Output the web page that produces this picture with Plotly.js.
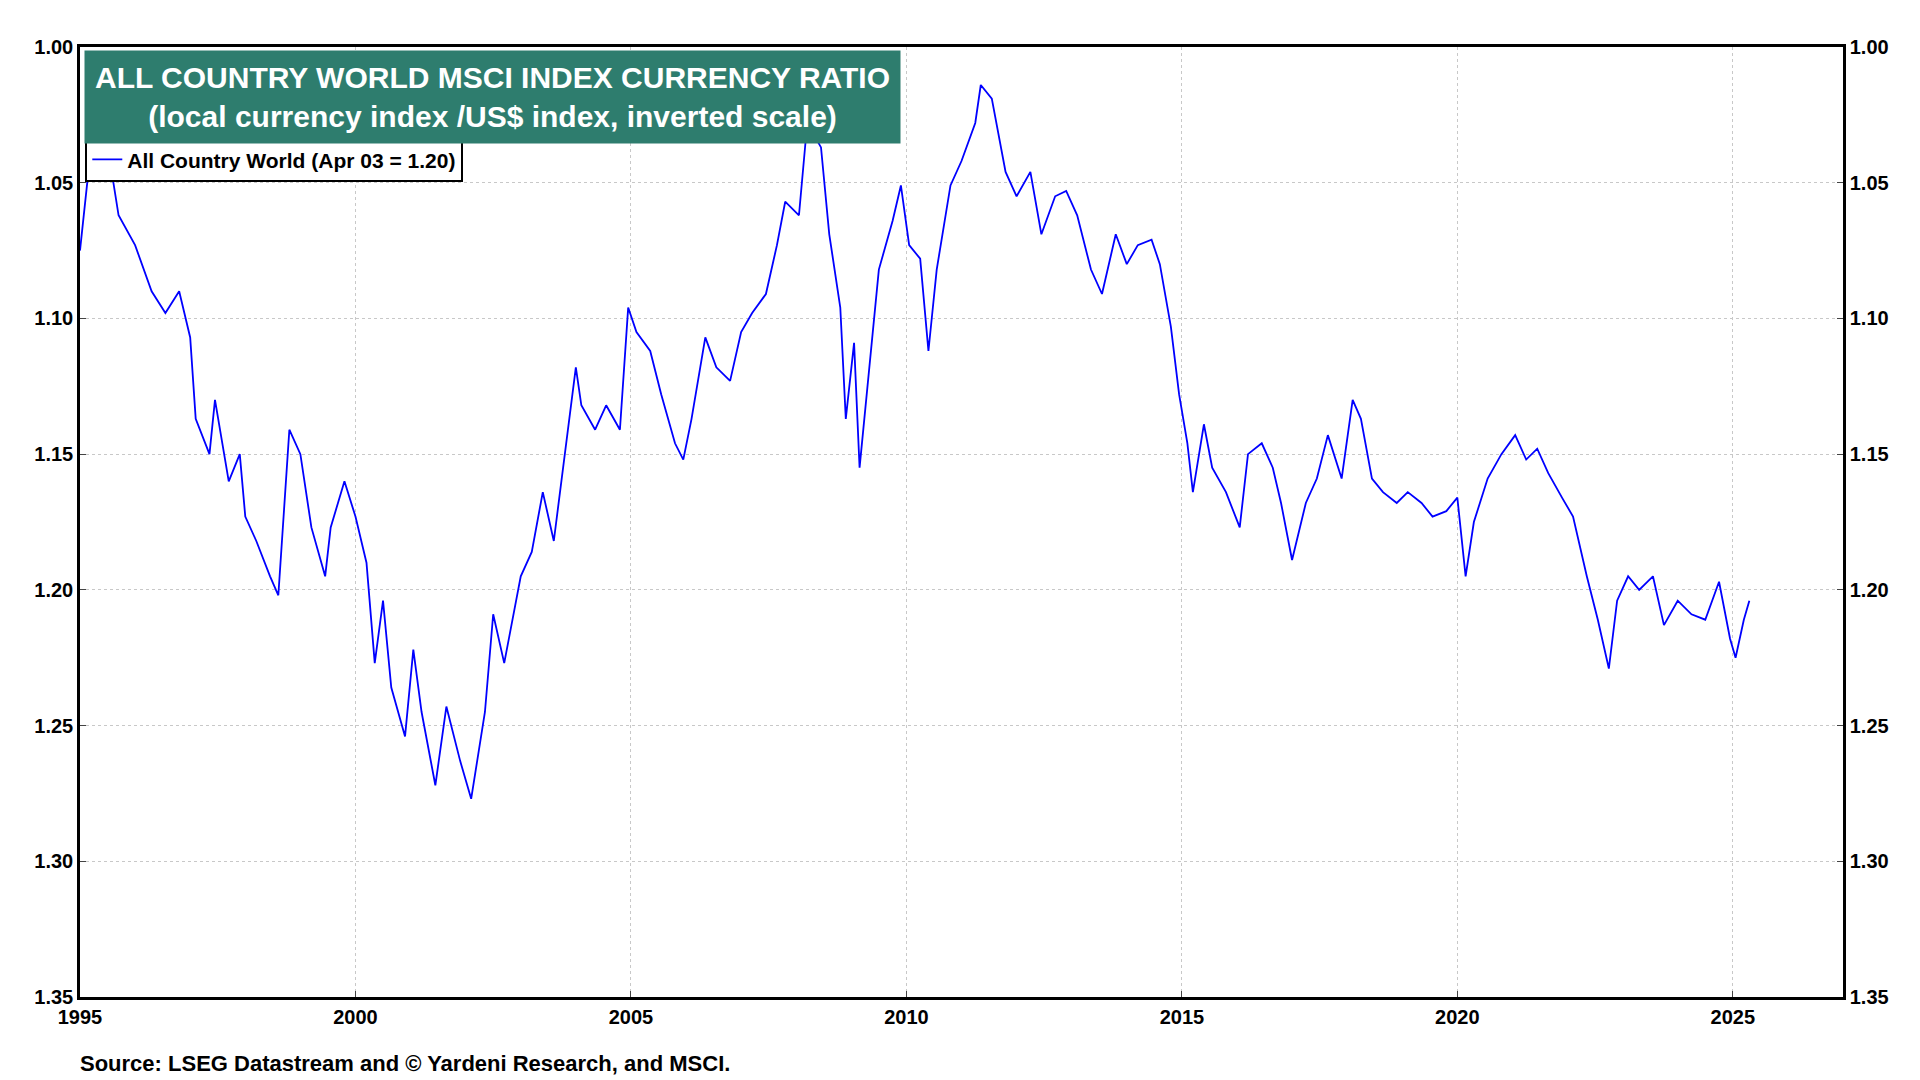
<!DOCTYPE html>
<html>
<head>
<meta charset="utf-8">
<script src="https://cdn.plot.ly/plotly-3.0.1.min.js"></script>
<style>html,body{margin:0;padding:0;background:#fff}#chart{width:1920px;height:1080px}</style>
</head>
<body>
<div id="chart"></div>
<script>
// decimal year and ratio
var years = [1995.0,1995.2,1995.45,1995.7,1996.0,1996.3,1996.55,1996.8,1997.0,1997.1,1997.35,1997.45,1997.7,1997.9,
  1998.0,1998.2,1998.45,1998.6,1998.8,1999.0,1999.2,1999.45,1999.55,1999.8,2000.0,2000.2,2000.35,2000.5,2000.65,2000.9,
  2001.05,2001.2,2001.45,2001.65,2001.9,2002.1,2002.35,2002.5,2002.7,2003.0,2003.2,2003.4,2003.6,2003.8,2004.0,2004.1,
  2004.35,2004.55,2004.8,2004.95,2005.1,2005.35,2005.55,2005.8,2005.95,2006.1,2006.35,2006.55,2006.8,2007.0,2007.2,
  2007.45,2007.65,2007.8,2008.05,2008.2,2008.45,2008.6,2008.8,2008.9,2009.05,2009.15,2009.35,2009.5,2009.75,2009.9,
  2010.05,2010.25,2010.4,2010.55,2010.8,2011.0,2011.25,2011.35,2011.55,2011.8,2012.0,2012.25,2012.45,2012.7,2012.9,
  2013.1,2013.35,2013.55,2013.8,2014.0,2014.2,2014.45,2014.6,2014.8,2014.95,2015.1,2015.2,2015.4,2015.55,2015.8,
  2016.05,2016.2,2016.45,2016.65,2016.8,2017.0,2017.25,2017.45,2017.65,2017.9,2018.1,2018.25,2018.45,2018.65,2018.9,
  2019.1,2019.35,2019.55,2019.8,2020.0,2020.15,2020.3,2020.55,2020.8,2021.05,2021.25,2021.45,2021.65,2021.9,2022.1,
  2022.35,2022.55,2022.75,2022.9,2023.1,2023.3,2023.55,2023.75,2024.0,2024.25,2024.5,2024.75,2024.95,2025.05,2025.2,2025.3];
var ratio = [1.075,1.037,1.03,1.062,1.073,1.09,1.098,1.09,1.107,1.137,1.15,1.13,1.16,1.15,
  1.173,1.182,1.195,1.202,1.141,1.15,1.177,1.195,1.177,1.16,1.173,1.19,1.227,1.204,1.236,1.254,
  1.222,1.245,1.272,1.243,1.263,1.277,1.245,1.209,1.227,1.195,1.186,1.164,1.182,1.15,1.118,1.132,
  1.141,1.132,1.141,1.096,1.105,1.112,1.128,1.146,1.152,1.137,1.107,1.118,1.123,1.105,1.098,
  1.091,1.073,1.057,1.062,1.028,1.037,1.069,1.096,1.137,1.109,1.155,1.114,1.082,1.064,1.051,
  1.073,1.078,1.112,1.082,1.051,1.042,1.028,1.014,1.019,1.046,1.055,1.046,1.069,1.055,1.053,
  1.062,1.082,1.091,1.069,1.08,1.073,1.071,1.08,1.103,1.128,1.146,1.164,1.139,1.155,1.164,
  1.177,1.15,1.146,1.155,1.168,1.189,1.168,1.159,1.143,1.159,1.13,1.137,1.159,1.164,1.168,
  1.164,1.168,1.173,1.171,1.166,1.195,1.175,1.159,1.15,1.143,1.152,1.148,1.157,1.166,1.173,
  1.195,1.211,1.229,1.204,1.195,1.2,1.195,1.213,1.204,1.209,1.211,1.197,1.218,1.225,1.211,1.204];
var yTicks = [1.00,1.05,1.10,1.15,1.20,1.25,1.30,1.35];
var yLabels = yTicks.map(function(v){return v.toFixed(2);});

var tickFont = {family:'Arial', size:20, weight:'bold', color:'#000'};
var data = [{
  x: years, y: ratio, type:'scatter', mode:'lines',
  line:{color:'#0000ff', width:1.8}, name:'All Country World (Apr 03 = 1.20)'
},{
  x: years, y: ratio, yaxis:'y2', type:'scatter', mode:'lines',
  line:{width:0}, hoverinfo:'skip', showlegend:false
}];
var layout = {
  width:1920, height:1080,
  margin:{l:80, r:77, t:47, b:83},
  paper_bgcolor:'#fff', plot_bgcolor:'#fff',
  font:{family:'Arial, Liberation Sans', color:'#000'},
  xaxis:{range:[1995,2027], tickvals:[1995,2000,2005,2010,2015,2020,2025], showgrid:true,
    gridcolor:'#c8c8c8', griddash:'dot', showline:true, linecolor:'#000', linewidth:2.5, mirror:true,
    ticks:'inside', ticklen:6, tickfont:tickFont, zeroline:false},
  yaxis:{range:[1.35,1.00], tickvals:yTicks, ticktext:yLabels, showgrid:true, gridcolor:'#c8c8c8',
    griddash:'dot', showline:true, linecolor:'#000', linewidth:2.5, ticks:'inside', ticklen:6,
    tickfont:tickFont, zeroline:false},
  yaxis2:{range:[1.35,1.00], tickvals:yTicks, ticktext:yLabels, overlaying:'y', side:'right',
    showgrid:false, showline:true, linecolor:'#000', linewidth:2.5, ticks:'inside', ticklen:6,
    tickfont:tickFont, zeroline:false},
  showlegend:true,
  legend:{x:0.003, y:0.905, xanchor:'left', yanchor:'top', bgcolor:'#fff', bordercolor:'#000',
    borderwidth:2, font:{family:'Arial', size:21, weight:'bold'}},
  annotations:[{
    xref:'paper', yref:'paper', x:0.002, y:0.997, xanchor:'left', yanchor:'top', showarrow:false,
    text:'ALL COUNTRY WORLD MSCI INDEX CURRENCY RATIO<br>(local currency index /US$ index, inverted scale)',
    font:{family:'Arial', size:30, color:'#fff', weight:'bold'}, bgcolor:'#2e7d6e',
    borderpad:10, align:'center'
  },{
    xref:'paper', yref:'paper', x:-0.001, y:-0.055, xanchor:'left', yanchor:'top', showarrow:false,
    text:'Source: LSEG Datastream and © Yardeni Research, and MSCI.',
    font:{family:'Arial', size:22, weight:'bold'}
  }]
};
Plotly.newPlot('chart', data, layout, {displayModeBar:false});
</script>
</body>
</html>
